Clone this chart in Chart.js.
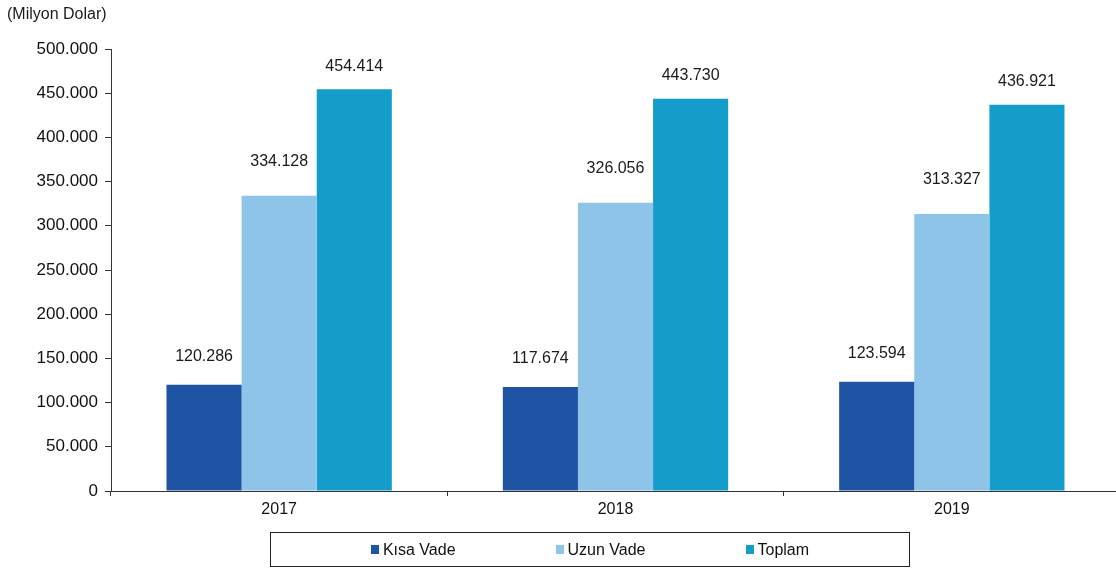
<!DOCTYPE html>
<html>
<head>
<meta charset="utf-8">
<script src="https://cdn.jsdelivr.net/npm/chart.js@4.4.0/dist/chart.umd.min.js"></script>
<style>
  html, body { margin: 0; background: #fff; overflow: hidden; }
  #wrap { position: relative; width: 1116px; height: 570px; overflow: hidden; }
  #legend {
    position: absolute; left: 270px; top: 532px; width: 638px; height: 33px;
    border: 1px solid #222; box-sizing: content-box;
    display: flex; justify-content: center; align-items: center; gap: 100px;
    padding-left: 0; font: 16px 'Liberation Sans', Arial, sans-serif; color: #111;
  }
  #legend .item { display: flex; align-items: center; }
  #legend .box { width: 8px; height: 9px; margin-right: 4px; }
</style>
</head>
<body>
<div id="wrap">
  <!-- canvas runs a few px past the right edge so the last category is cut like the axis -->
  <canvas id="barchart" width="1120" height="570"></canvas>
  <div id="legend"></div>
</div>
<script>
const years = ['2017', '2018', '2019'];
const kisaVade = [120286, 117674, 123594];
const uzunVade = [334128, 326056, 313327];
const toplam = [454414, 443730, 436921];
const yMax = 500000;
const yStep = 50000;

const font = "'Liberation Sans', Arial, sans-serif";

// 500000 -> 500.000
function fmt(v) {
    return String(v).replace(/\B(?=(\d{3})+(?!\d))/g, '.');
}

// values over the bars plus the unit caption in the corner
const valueLabels = {
    id: 'valueLabels',
    afterDatasetsDraw(chart) {
        const ctx = chart.ctx;
        ctx.save();
        ctx.font = '16px ' + font;
        ctx.fillStyle = '#1a1a1a';
        ctx.textAlign = 'center';
        ctx.textBaseline = 'middle';
        chart.data.datasets.forEach((ds, i) => {
            chart.getDatasetMeta(i).data.forEach((bar, j) => {
                ctx.fillText(fmt(ds.data[j]), bar.x, bar.y - ds.labelOffset);
            });
        });
        ctx.textAlign = 'left';
        ctx.fillText('(Milyon Dolar)', 7, 15);
        ctx.restore();
    }
};

let chart1 = document.getElementById('barchart').getContext('2d');

let DebtChart = new Chart(chart1, {
    type: 'bar',
    data: {
        labels: years,
        datasets: [
            { label: 'Kısa Vade', data: kisaVade, backgroundColor: '#1f53a3', labelOffset: 28 },
            { label: 'Uzun Vade', data: uzunVade, backgroundColor: '#8fc4e9', labelOffset: 34 },
            { label: 'Toplam', data: toplam, backgroundColor: '#149dcb', labelOffset: 23 }
        ]
    },
    options: {
        responsive: false,
        animation: false,
        categoryPercentage: 0.67,
        barPercentage: 1.0,
        layout: {
            padding: { top: 49, left: 0, right: 0, bottom: 49 }
        },
        plugins: {
            legend: { display: false },
            tooltip: { enabled: false }
        },
        scales: {
            x: {
                afterFit: (scale) => { scale.height = 30; },
                grid: { drawOnChartArea: false, tickLength: 5, color: '#333', offset: true },
                border: { color: '#333' },
                ticks: { font: { family: font, size: 16 }, color: '#111', padding: 4 }
            },
            y: {
                min: 0,
                max: yMax,
                afterFit: (scale) => { scale.width = 111; },
                grid: { drawOnChartArea: false, tickLength: 6, color: '#333' },
                border: { color: '#333' },
                ticks: {
                    stepSize: yStep,
                    font: { family: font, size: 17 },
                    color: '#111',
                    padding: 7,
                    callback: (v) => fmt(v)
                }
            }
        }
    },
    plugins: [valueLabels]
});

// legend box under the chart
const legend = document.getElementById('legend');
DebtChart.data.datasets.forEach((ds) => {
    const item = document.createElement('div');
    item.className = 'item';
    item.innerHTML = '<span class="box" style="background:' + ds.backgroundColor + '"></span>' + ds.label;
    legend.appendChild(item);
});
</script>
</body>
</html>
